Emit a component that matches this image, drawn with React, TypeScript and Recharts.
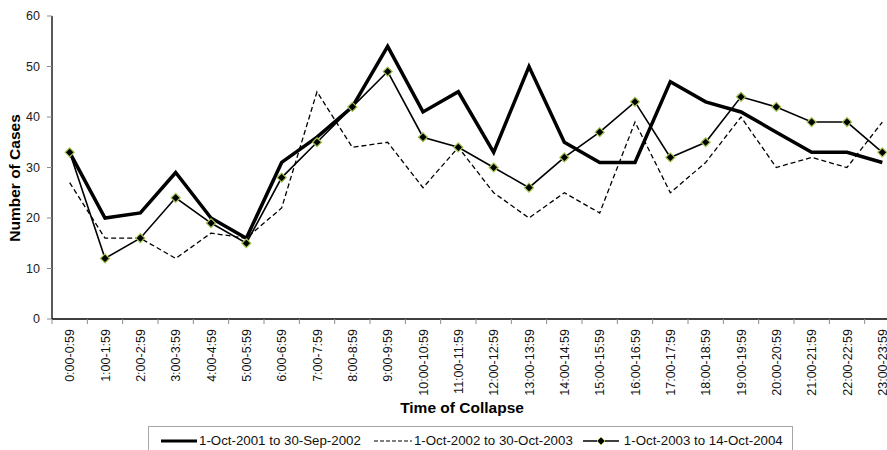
import React from "react";
import {
  LineChart,
  Line,
  XAxis,
  YAxis,
  Legend,
} from "recharts";

const HOURS = [
  "0:00-0:59", "1:00-1:59", "2:00-2:59", "3:00-3:59", "4:00-4:59", "5:00-5:59",
  "6:00-6:59", "7:00-7:59", "8:00-8:59", "9:00-9:59", "10:00-10:59", "11:00-11:59",
  "12:00-12:59", "13:00-13:59", "14:00-14:59", "15:00-15:59", "16:00-16:59", "17:00-17:59",
  "18:00-18:59", "19:00-19:59", "20:00-20:59", "21:00-21:59", "22:00-22:59", "23:00-23:59",
];

const CASES_2001 = [33, 20, 21, 29, 20, 16, 31, 36, 42, 54, 41, 45, 33, 50, 35, 31, 31, 47, 43, 41, 37, 33, 33, 31];
const CASES_2002 = [27, 16, 16, 12, 17, 16, 22, 45, 34, 35, 26, 34, 25, 20, 25, 21, 39, 25, 31, 40, 30, 32, 30, 39];
const CASES_2003 = [33, 12, 16, 24, 19, 15, 28, 35, 42, 49, 36, 34, 30, 26, 32, 37, 43, 32, 35, 44, 42, 39, 39, 33];

const Y_TICKS = [0, 10, 20, 30, 40, 50, 60];

const SERIES_NAMES = [
  "1-Oct-2001 to 30-Sep-2002",
  "1-Oct-2002 to 30-Oct-2003",
  "1-Oct-2003 to 14-Oct-2004",
];

const data = HOURS.map((hour, i) => ({
  hour,
  a: CASES_2001[i],
  b: CASES_2002[i],
  c: CASES_2003[i],
}));

const FONT = "'Liberation Sans', Arial, sans-serif";
const CHART_W = 887;
const CHART_H = 450;
const Y_AXIS_W = 52;
// the original plot area runs past the right edge of the picture
const RIGHT = -13;
const BAND = (CHART_W - RIGHT - Y_AXIS_W) / HOURS.length;
const MARKER_EDGE = "#a3c552";

const Diamond = (props: any) => {
  const { cx, cy, index } = props;
  if (cx == null || cy == null) return <g key={index} />;
  const r = 4.5;
  return (
    <path
      key={index}
      d={`M${cx} ${cy - r} L${cx + r} ${cy} L${cx} ${cy + r} L${cx - r} ${cy} Z`}
      fill="#000"
      stroke={MARKER_EDGE}
      strokeWidth={1.2}
    />
  );
};

const HourTick = (props: any) => {
  const { x, y, payload } = props;
  const left = x - BAND / 2;
  return (
    <g>
      <line x1={left} y1={y - 5} x2={left} y2={y} stroke="#8c8c8c" />
      <text
        x={x + 4.5}
        y={y + 5}
        transform={`rotate(-90, ${x + 4.5}, ${y + 5})`}
        textAnchor="end"
        fontSize={12.5}
        fontFamily={FONT}
        fill="#111"
      >
        {payload.value}
      </text>
    </g>
  );
};

const LegendBox = () => {
  const text = { fontSize: 13.3, fontFamily: FONT, color: "#111", whiteSpace: "nowrap" as const };
  return (
    <div
      style={{
        border: "1px solid #a6a6a6",
        height: 40,
        display: "flex",
        alignItems: "flex-start",
        paddingTop: 6,
        paddingLeft: 12,
        boxSizing: "border-box",
        background: "#fff",
        lineHeight: "16px",
      }}
    >
      <svg width={38} height={16}>
        <line x1={0} y1={8} x2={36} y2={8} stroke="#000" strokeWidth={3} />
      </svg>
      <span style={{ ...text, marginRight: 13 }}>{SERIES_NAMES[0]}</span>
      <svg width={40} height={16}>
        <line x1={0} y1={8} x2={38} y2={8} stroke="#000" strokeWidth={1.2} strokeDasharray="4 2" />
      </svg>
      <span style={{ ...text, marginRight: 10 }}>{SERIES_NAMES[1]}</span>
      <svg width={41} height={16}>
        <line x1={0} y1={8} x2={36} y2={8} stroke="#000" strokeWidth={1.5} />
        <path d="M18 4 L22 8 L18 12 L14 8 Z" fill="#000" stroke={MARKER_EDGE} strokeWidth={1} />
      </svg>
      <span style={text}>{SERIES_NAMES[2]}</span>
    </div>
  );
};

export default function App() {
  return (
    <div
      style={{
        position: "absolute",
        left: 0,
        top: 0,
        width: CHART_W,
        height: CHART_H,
        overflow: "hidden",
        background: "#fff",
      }}
    >
      <LineChart
        width={CHART_W}
        height={CHART_H}
        data={data}
        margin={{ top: 16, right: RIGHT, left: 0, bottom: 0 }}
      >
        <XAxis
          dataKey="hour"
          interval={0}
          height={131}
          tickSize={5}
          tickMargin={0}
          tickLine={false}
          padding={{ left: BAND / 2, right: BAND / 2 }}
          axisLine={{ stroke: "#000", strokeWidth: 1.3 }}
          tick={<HourTick />}
          label={{
            content: () => (
              <text
                x={462}
                y={413}
                textAnchor="middle"
                fontSize={15.5}
                fontWeight="bold"
                fontFamily={FONT}
                fill="#000"
              >
                Time of Collapse
              </text>
            ),
          }}
        />
        <YAxis
          width={Y_AXIS_W}
          domain={[0, 60]}
          ticks={Y_TICKS}
          interval={0}
          tickSize={5}
          tickMargin={7}
          axisLine={{ stroke: "#000", strokeWidth: 1.3 }}
          tickLine={{ stroke: "#8c8c8c" }}
          tick={{ fill: "#222", fontSize: 12.5, fontFamily: FONT }}
          label={{
            content: () => (
              <text
                x={20}
                y={178}
                transform="rotate(-90, 20, 178)"
                textAnchor="middle"
                fontSize={15.5}
                fontWeight="bold"
                fontFamily={FONT}
                fill="#000"
              >
                Number of Cases
              </text>
            ),
          }}
        />
        <Legend
          layout="horizontal"
          verticalAlign="middle"
          align="center"
          content={<LegendBox />}
          wrapperStyle={{ left: 148, top: 426, width: 645, height: 40 }}
        />
        <Line
          type="linear"
          dataKey="a"
          name={SERIES_NAMES[0]}
          stroke="#000"
          strokeWidth={3.5}
          dot={false}
          activeDot={false}
          isAnimationActive={false}
        />
        <Line
          type="linear"
          dataKey="b"
          name={SERIES_NAMES[1]}
          stroke="#000"
          strokeWidth={1.3}
          strokeDasharray="5 3"
          dot={false}
          activeDot={false}
          isAnimationActive={false}
        />
        <Line
          type="linear"
          dataKey="c"
          name={SERIES_NAMES[2]}
          stroke="#000"
          strokeWidth={1.6}
          dot={<Diamond />}
          activeDot={false}
          isAnimationActive={false}
        />
      </LineChart>
    </div>
  );
}
